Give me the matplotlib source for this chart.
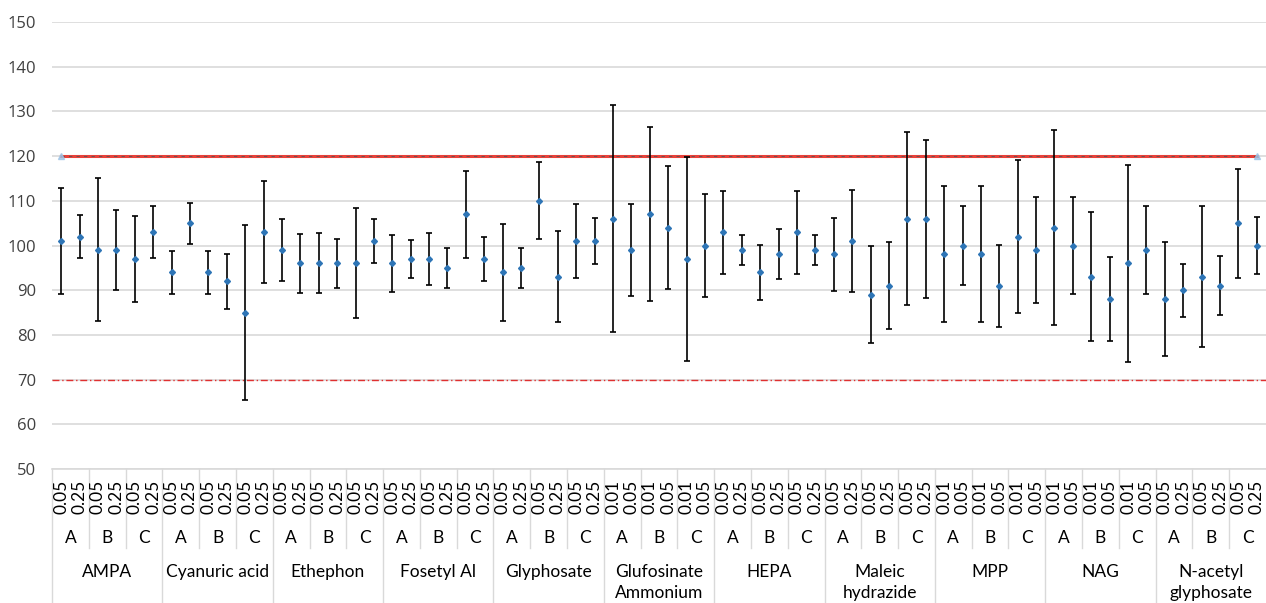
import matplotlib
matplotlib.use("Agg")
import matplotlib.pyplot as plt
import matplotlib.transforms as mtransforms
import numpy as np

compounds = ["AMPA", "Cyanuric acid", "Ethephon", "Fosetyl Al", "Glyphosate",
             "Glufosinate\nAmmonium", "HEPA", "Maleic\nhydrazide", "MPP", "NAG",
             "N-acetyl\nglyphosate"]
matrices = ["A", "B", "C"]
levels = [["0.05", "0.25"]] * 5 + [["0.01", "0.05"]] + [["0.05", "0.25"]] * 2 \
    + [["0.01", "0.05"]] * 2 + [["0.05", "0.25"]]

recovery = [101, 102, 99, 99, 97, 103,
            94, 105, 94, 92, 85, 103,
            99, 96, 96, 96, 96, 101,
            96, 97, 97, 95, 107, 97,
            94, 95, 110, 93, 101, 101,
            106, 99, 107, 104, 97, 100,
            103, 99, 94, 98, 103, 99,
            98, 101, 89, 91, 106, 106,
            98, 100, 98, 91, 102, 99,
            104, 100, 93, 88, 96, 99,
            88, 90, 93, 91, 105, 100]
rsd = [11.8, 4.9, 16.0, 8.9, 9.7, 5.8,
       4.8, 4.6, 4.8, 6.2, 19.5, 11.4,
       6.9, 6.6, 6.7, 5.4, 12.3, 4.9,
       6.4, 4.3, 5.9, 4.4, 9.7, 4.9,
       10.8, 4.5, 8.6, 10.2, 8.3, 5.1,
       25.4, 10.3, 19.4, 13.7, 22.9, 11.6,
       9.3, 3.4, 6.2, 5.6, 9.3, 3.4,
       8.1, 11.4, 10.9, 9.7, 19.4, 17.7,
       15.2, 8.9, 15.2, 9.2, 17.2, 11.8,
       21.8, 10.9, 14.4, 9.4, 22.1, 9.8,
       12.7, 5.9, 15.8, 6.6, 12.2, 6.3]
upper_limit = 120
lower_limit = 70

W, H = 1266, 603
fig = plt.figure(figsize=(W / 100, H / 100), dpi=100)
left, right, top, bottom = 52, 1266, 22, 469
ax = fig.add_axes([left / W, 1 - bottom / H, (right - left) / W, (bottom - top) / H])

x = np.arange(len(recovery))
grid_col = "#d9d9d9"

ax.set_xlim(-0.5, len(recovery) - 0.5)
ax.set_ylim(50, 150)
ax.set_yticks(np.arange(50, 151, 10))
ax.yaxis.grid(True, color=grid_col, lw=1.2)
ax.set_axisbelow(True)
for s in ["top", "right", "left"]:
    ax.spines[s].set_visible(False)
ax.spines["bottom"].set_color(grid_col)
ax.spines["bottom"].set_linewidth(1.2)
ax.tick_params(axis="y", length=0, pad=11.5, labelsize=12, labelcolor="#404040")
for lab in ax.get_yticklabels():
    lab.set_fontfamily("Open Sans")
ax.set_xticks([])

# limits
ax.plot([x[0], x[-1]], [upper_limit, upper_limit], color="#e8413a", lw=2.2, zorder=2)
ax.plot([x[0], x[-1]], [upper_limit, upper_limit], color="#555555", lw=0.6,
        dashes=(4, 5), zorder=2)
ax.plot([x[0], x[-1]], [upper_limit, upper_limit], ls="none", marker="^",
        ms=4, color="#9dc3e6", alpha=0.8, zorder=3)
ax.axhline(lower_limit, color="#e03030", lw=1.0, dashes=(5, 2, 1, 2), zorder=2)

ax.errorbar(x, recovery, yerr=rsd, fmt="D", ms=3, color="#2e75b6",
            ecolor="black", elinewidth=1.2, capsize=2.5, capthick=1.2, zorder=4)

# hierarchical category axis
trans = mtransforms.blended_transform_factory(ax.transData, ax.transAxes)
ph = bottom - top


def yax(py):
    return (bottom - py) / ph


lab_font = dict(family="Lato", color="black", fontsize=12.5)
i = 0
for c, comp in enumerate(compounds):
    for m, mat in enumerate(matrices):
        for lv in levels[c]:
            ax.text(i, yax(497), lv, rotation=90, ha="center", va="center",
                    transform=trans, clip_on=False, **lab_font)
            i += 1
        ax.text(c * 6 + m * 2 + 0.5, yax(538), mat, ha="center", va="center",
                transform=trans, clip_on=False, **lab_font)
        if m > 0:
            xb = c * 6 + m * 2 - 0.5
            ax.plot([xb, xb], [0, yax(548)], color=grid_col, lw=1.0,
                    transform=trans, clip_on=False)
    ax.text(c * 6 + 2.5, yax(564), comp, ha="center", va="top", linespacing=1.35,
            transform=trans, clip_on=False, **lab_font)
    xb = c * 6 - 0.5
    ax.plot([xb, xb], [0, yax(603)], color=grid_col, lw=1.0,
            transform=trans, clip_on=False)

fig.savefig("out.png", dpi=100)
